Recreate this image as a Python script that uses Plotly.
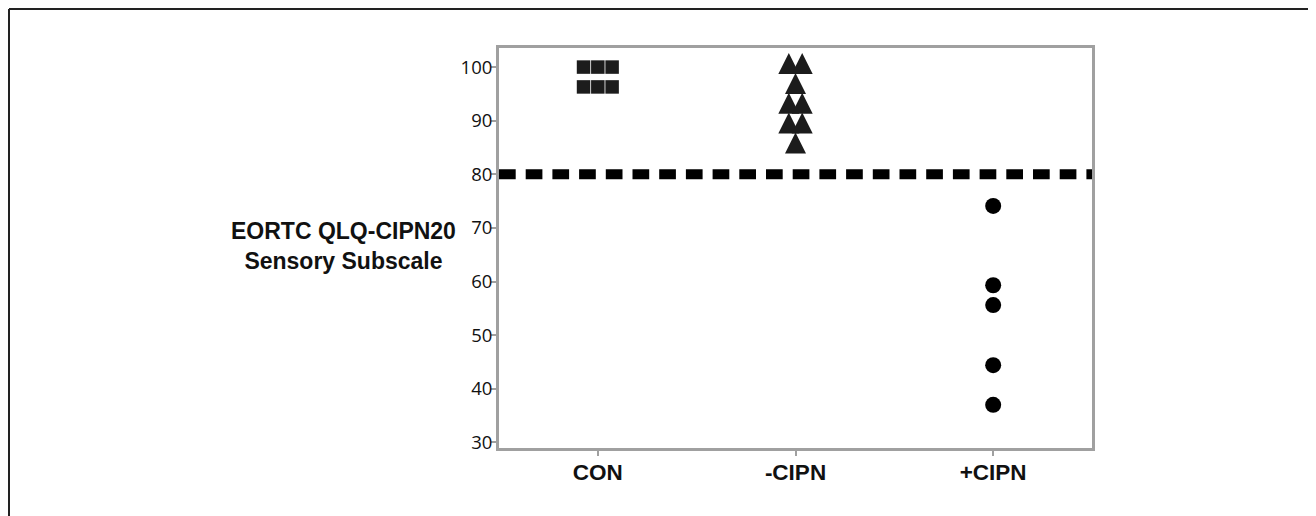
import plotly.graph_objects as go
from collections import Counter

# ---- data ----
categories = ["CON", "-CIPN", "+CIPN"]
con_values = [100, 100, 100, 96.3, 96.3, 96.3]
neg_cipn_values = [100, 100, 96.3, 92.6, 92.6, 88.9, 88.9, 85.2]
pos_cipn_values = [74.1, 59.3, 55.6, 44.4, 37.0]
threshold = 80
y_tickvals = [30, 40, 50, 60, 70, 80, 90, 100]
y_title = "EORTC QLQ-CIPN20<br>Sensory Subscale"


def dodge(values, center, step):
    counts = Counter(values)
    seen = {}
    xs = []
    for v in values:
        n = counts[v]
        i = seen.get(v, 0)
        seen[v] = i + 1
        xs.append(center + (i - (n - 1) / 2) * step)
    return xs


W, H = 1316, 516
OFF = 8  # page body margin offset
L, R, T, B = 499 - OFF, 1092 - OFF, 48 - OFF, 448 - OFF
pw, ph = R - L, B - T

fig = go.Figure()
mark_col = "#1c1c1c"

fig.add_trace(go.Scatter(
    x=dodge(con_values, 0, 0.0723), y=con_values, mode="markers",
    marker=dict(symbol="square", size=13.5, color=mark_col, line=dict(width=0)),
    showlegend=False, hoverinfo="y"))

fig.add_trace(go.Scatter(
    x=dodge(neg_cipn_values, 1, 0.0678), y=neg_cipn_values, mode="markers",
    marker=dict(symbol="arrow-down", angle=180, standoff=14, size=21,
                color=mark_col, line=dict(width=0)),
    showlegend=False, hoverinfo="y"))

fig.add_trace(go.Scatter(
    x=dodge(pos_cipn_values, 2, 0.07), y=pos_cipn_values, mode="markers",
    marker=dict(symbol="circle", size=16, color="#000000", line=dict(width=0)),
    showlegend=False, hoverinfo="y"))

fig.add_hline(y=threshold, line=dict(color="#000000", width=10, dash="16.7px,10px"),
              layer="above")

# outer frame lines (top and left) of the cropped figure
lx = (1.0 - L) / pw
ty = (B - 1.0) / ph
fig.add_shape(type="line", xref="paper", yref="paper", x0=lx, x1=(W - L) / pw,
              y0=ty, y1=ty, line=dict(color="#222222", width=2))
fig.add_shape(type="line", xref="paper", yref="paper", x0=lx, x1=lx,
              y0=ty, y1=(B - H) / ph, line=dict(color="#222222", width=2))

fig.add_annotation(text=y_title, xref="paper", yref="paper",
                   x=(343.5 - OFF - L) / pw, y=(B - (246 - OFF)) / ph,
                   xanchor="center", yanchor="middle", showarrow=False,
                   font=dict(family="Liberation Sans, Arial", size=23,
                             color="#111111", weight="bold"))

fig.update_xaxes(range=[-0.5, 2.5], tickvals=[0, 1, 2], ticktext=categories,
                 showgrid=False, zeroline=False, showline=True, mirror=True,
                 linecolor="#a0a0a0", linewidth=3, ticks="outside", ticklen=5,
                 tickwidth=2, tickcolor="#a0a0a0", ticklabelstandoff=-3,
                 tickfont=dict(family="Liberation Sans, Arial", size=22.5,
                               color="#111111", weight="bold"))
fig.update_yaxes(range=[28.94, 103.56], tickvals=y_tickvals,
                 showgrid=False, zeroline=False, showline=True, mirror=True,
                 linecolor="#a0a0a0", linewidth=3, ticks="outside", ticklen=5,
                 tickwidth=2, tickcolor="#a0a0a0", ticklabelstandoff=-5,
                 tickfont=dict(family="Open Sans", size=18.5, color="#111111"))

fig.update_layout(width=W, height=H, paper_bgcolor="white", plot_bgcolor="white",
                  margin=dict(l=L, r=W - R, t=T, b=H - B, pad=0))

fig.write_html("out.html")
